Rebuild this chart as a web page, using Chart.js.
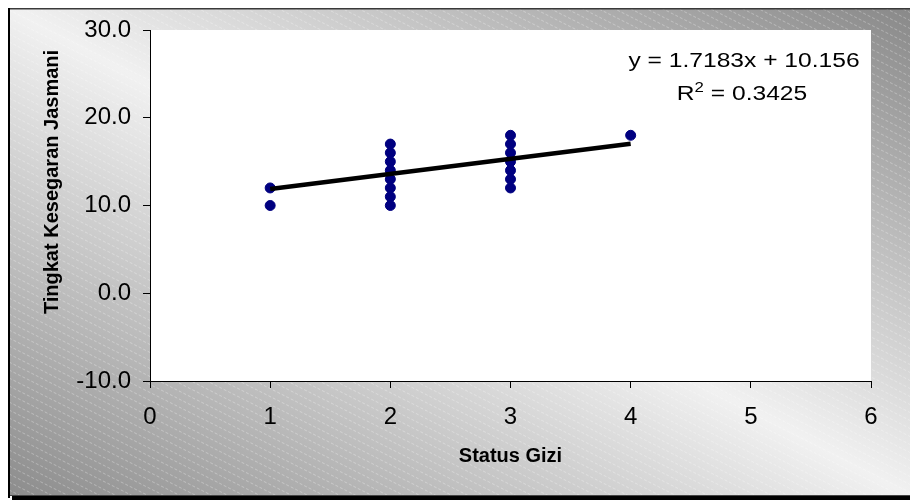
<!DOCTYPE html>
<html><head><meta charset="utf-8">
<style>html,body{margin:0;padding:0;background:#fff;} #wrap{width:910px;height:500px;position:relative;}</style>
<script src="https://cdn.jsdelivr.net/npm/chart.js@4.4.1/dist/chart.umd.min.js"></script>
</head><body><div id="wrap"><canvas id="c" width="910" height="500"></canvas></div>
<script>
// ---- data ----
const xValues = [1, 1, 2, 2, 2, 2, 2, 2, 2, 2, 3, 3, 3, 3, 3, 3, 3, 4];
const yValues = [12, 10, 10, 11, 12, 13, 14, 15, 16, 17, 12, 13, 14, 15, 16, 17, 18, 18];
const trendX = [1, 4];
const trendY = [11.87, 17.03];
const xTicks = [0, 1, 2, 3, 4, 5, 6];
const yTicks = [-10, 0, 10, 20, 30];
const xTitle = 'Status Gizi';
const yTitle = 'Tingkat Kesegaran Jasmani';
const equationText = 'y = 1.7183x + 10.156';
const r2Text = ' = 0.3425';

const FONT = '"Liberation Sans", Arial, sans-serif';
Chart.defaults.font.family = FONT;

const bgPlugin = {
  id: 'bg',
  beforeDraw(chart) {
    const ctx = chart.ctx, W = chart.width, H = chart.height;
    ctx.save();
    ctx.fillStyle = '#fff';
    ctx.fillRect(0, 0, W, H);
    const x0 = 9, y0 = 9, x1 = W, y1 = H - 4;
    const cx = (x0 + x1) / 2, cy = (y0 + y1) / 2;
    const dx = x1 - x0, dy = y1 - y0, len = Math.hypot(dx, dy);
    const nx = dy / len, ny = -dx / len;
    const d = (x1 - cx) * nx + (y0 - cy) * ny;
    const g = ctx.createLinearGradient(cx - nx * d, cy - ny * d, cx + nx * d, cy + ny * d);
    g.addColorStop(0, '#8c8c8c');
    g.addColorStop(0.5, '#f1f1f1');
    g.addColorStop(1, '#898989');
    ctx.fillStyle = g;
    ctx.fillRect(x0, y0, x1 - x0, y1 - y0);
    // fine diagonal stripes
    ctx.save();
    ctx.beginPath(); ctx.rect(x0, y0, x1 - x0, y1 - y0); ctx.clip();
    ctx.strokeStyle = 'rgba(255,255,255,0.3)';
    ctx.lineWidth = 1;
    ctx.setLineDash([3, 2]);
    ctx.beginPath();
    for (let b = -0.5 * W; b < H; b += 8) {
      ctx.moveTo(x0, y0 + b);
      ctx.lineTo(x1, y0 + b + 0.5 * (x1 - x0));
    }
    ctx.stroke();
    ctx.restore();
    // frame
    ctx.fillStyle = '#3a3a3a';
    ctx.fillRect(8, 8, W - 8, 1.5);
    ctx.fillStyle = '#000';
    ctx.fillRect(8, 8, 2, H - 10);
    ctx.fillRect(12, H - 4, W - 12, 4);
    ctx.fillStyle = '#444';
    ctx.fillRect(10, H - 5, W - 10, 1);
    // plot area
    const a = chart.chartArea;
    ctx.fillStyle = '#fff';
    ctx.fillRect(a.left, a.top, a.right - a.left, a.bottom - a.top);
    ctx.restore();
  },
  afterDraw(chart) {
    const ctx = chart.ctx, a = chart.chartArea;
    ctx.save();
    ctx.fillStyle = '#000';
    // y axis title
    ctx.font = 'bold 20px ' + FONT;
    ctx.textAlign = 'center';
    ctx.textBaseline = 'alphabetic';
    ctx.save();
    ctx.translate(58, 182);
    ctx.rotate(-Math.PI / 2);
    ctx.fillText(yTitle, 0, 0);
    ctx.restore();
    // trendline equation
    const sx = 1.2;
    const cxEq = a.right - 127;
    ctx.save();
    ctx.translate(cxEq, a.top + 37);
    ctx.scale(sx, 1);
    ctx.font = '20.5px ' + FONT;
    ctx.textAlign = 'center';
    ctx.fillText(equationText, 0, 0);
    ctx.restore();
    // R^2 line
    ctx.save();
    ctx.font = '20.5px ' + FONT;
    const wR = ctx.measureText('R').width;
    const wRest = ctx.measureText(r2Text).width;
    ctx.font = '14px ' + FONT;
    const w2 = ctx.measureText('2').width;
    const total = wR + w2 + wRest;
    ctx.translate(a.right - 129, a.top + 70);
    ctx.scale(sx, 1);
    ctx.textAlign = 'left';
    let x = -total / 2;
    ctx.font = '20.5px ' + FONT;
    ctx.fillText('R', x, 0); x += wR;
    ctx.font = '14px ' + FONT;
    ctx.fillText('2', x, -8.3); x += w2;
    ctx.font = '20.5px ' + FONT;
    ctx.fillText(r2Text, x, 0);
    ctx.restore();
    ctx.restore();
  }
};

const gridOpts = { display: true, drawOnChartArea: false, drawTicks: true, tickLength: 7, color: '#000', lineWidth: 1 };

new Chart(document.getElementById('c'), {
  type: 'scatter',
  data: {
    datasets: [
      {
        type: 'line',
        label: 'Trend',
        data: trendX.map((x, i) => ({ x: x, y: trendY[i] })),
        borderColor: '#000',
        borderWidth: 4.5,
        pointRadius: 0,
        fill: false,
        order: 0
      },
      {
        type: 'scatter',
        label: 'Data',
        data: xValues.map((x, i) => ({ x: x, y: yValues[i] })),
        backgroundColor: '#000080',
        borderColor: '#000080',
        borderWidth: 1,
        pointRadius: 5,
        order: 1
      }
    ]
  },
  options: {
    responsive: false,
    animation: false,
    layout: { padding: { left: 0, top: 30, right: 39, bottom: 0 } },
    plugins: { legend: { display: false }, tooltip: { enabled: false } },
    scales: {
      x: {
        type: 'linear',
        min: 0, max: 6,
        afterBuildTicks: s => { s.ticks = xTicks.map(v => ({ value: v })); },
        afterFit: s => { s.height = 119; },
        grid: gridOpts,
        border: { display: true, color: '#000', width: 1 },
        ticks: { font: { size: 24 }, color: '#000', padding: 15, maxRotation: 0, autoSkip: false },
        title: { display: true, text: xTitle, color: '#000', font: { size: 20, weight: 'bold' }, padding: { top: 0, bottom: 32 } }
      },
      y: {
        type: 'linear',
        min: -10, max: 30,
        afterBuildTicks: s => { s.ticks = yTicks.map(v => ({ value: v })); },
        afterFit: s => { s.width = 150; },
        grid: gridOpts,
        border: { display: true, color: '#000', width: 1 },
        ticks: { font: { size: 24 }, color: '#000', padding: 12, callback: v => Number(v).toFixed(1) }
      }
    }
  },
  plugins: [bgPlugin]
});
</script>
</body></html>
